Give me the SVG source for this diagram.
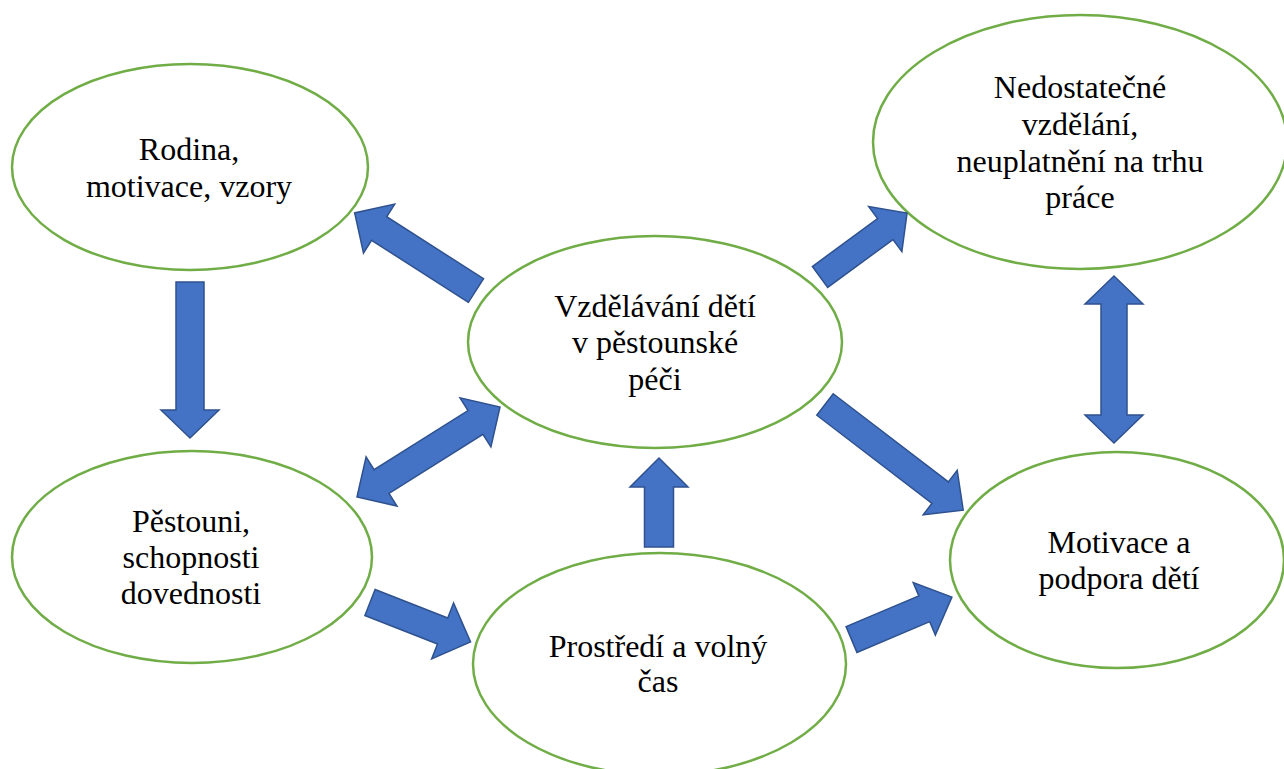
<svg xmlns="http://www.w3.org/2000/svg" width="1284" height="769" viewBox="0 0 1284 769">
<style>
.node ellipse{fill:#ffffff;stroke:#70AD47;stroke-width:2.5}
.node text{font-family:"Liberation Serif","Times New Roman",serif;font-size:32px;fill:#000;text-anchor:middle}
.arr path{fill:#4472C4;stroke:#2F528F;stroke-width:1.5;stroke-linejoin:miter}
</style>
<rect width="1284" height="769" fill="#ffffff"/>
<g id="node-rodina" class="node">
<ellipse cx="190" cy="167" rx="178" ry="103"/>
<text x="189" y="160">Rodina,</text>
<text x="189" y="197">motivace, vzory</text>
</g>
<g id="node-nedostatecne" class="node">
<ellipse cx="1080" cy="142" rx="207" ry="127"/>
<text x="1080" y="98">Nedostatečné</text>
<text x="1080" y="135">vzdělání,</text>
<text x="1080" y="172">neuplatnění na trhu</text>
<text x="1080" y="208">práce</text>
</g>
<g id="node-vzdelavani" class="node">
<ellipse cx="655" cy="342" rx="187" ry="106"/>
<text x="655" y="317">Vzdělávání dětí</text>
<text x="655" y="353">v pěstounské</text>
<text x="655" y="390">péči</text>
</g>
<g id="node-pestouni" class="node">
<ellipse cx="192" cy="557" rx="180" ry="106"/>
<text x="191" y="532">Pěstouni,</text>
<text x="191" y="568">schopnosti</text>
<text x="191" y="604">dovednosti</text>
</g>
<g id="node-prostredi" class="node">
<ellipse cx="659.5" cy="664" rx="186.5" ry="111"/>
<text x="658" y="657">Prostředí a volný</text>
<text x="658" y="692">čas</text>
</g>
<g id="node-motivace" class="node">
<ellipse cx="1117" cy="560" rx="167" ry="108"/>
<text x="1119" y="553">Motivace a</text>
<text x="1119" y="589">podpora dětí</text>
</g>
<g id="connectors" class="arr">
<path transform="translate(476,290.5) rotate(212.6)" d="M0,-14 H115 V-29 L144,0 L115,29 V14 H0 Z"/>
<path transform="translate(190,282) rotate(90)" d="M0,-14 H128 V-29 L156,0 L128,29 V14 H0 Z"/>
<path transform="translate(357,497) rotate(-32.2)" d="M0,0 L29,-29 V-14 H140 V-29 L169,0 L140,29 V14 H29 V29 Z"/>
<path transform="translate(820,277) rotate(-36.3)" d="M0,-13 H81 V-28 L108,0 L81,28 V13 H0 Z"/>
<path transform="translate(1114,443) rotate(-90)" d="M0,0 L28,-29 V-13 H139 V-29 L167,0 L139,29 V13 H28 V29 Z"/>
<path transform="translate(825,404.5) rotate(37.4)" d="M0,-13.5 H145 V-28 L174,0 L145,28 V13.5 H0 Z"/>
<path transform="translate(370,602.5) rotate(21.4)" d="M0,-14 H78 V-30 L108,0 L78,30 V14 H0 Z"/>
<path transform="translate(659,547) rotate(-90)" d="M0,-14.5 H60 V-29 L89,0 L60,29 V14.5 H0 Z"/>
<path transform="translate(851.5,639.5) rotate(-22.9)" d="M0,-14 H79 V-28.5 L109,0 L79,28.5 V14 H0 Z"/>
</g>
</svg>
